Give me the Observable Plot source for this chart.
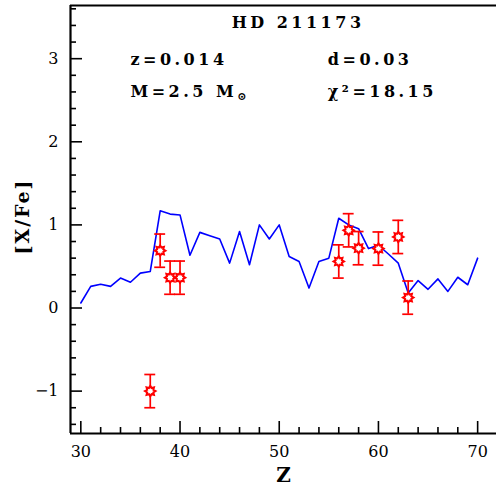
<!DOCTYPE html>
<html><head><meta charset="utf-8">
<script src="https://cdn.jsdelivr.net/npm/d3@7"></script>
<script src="https://cdn.jsdelivr.net/npm/@observablehq/plot@0.6"></script>
<style>body{margin:0;background:#fff}</style>
</head><body><div id="chart"></div>
<script>
// Model curve
const zModel = [30,31,32,33,34,35,36,37,38,39,40,41,42,43,44,45,46,47,48,49,50,51,52,53,54,55,56,57,58,59,60,61,62,63,64,65,66,67,68,69,70];
const xfeModel = [0.06,0.26,0.285,0.26,0.36,0.31,0.42,0.44,1.17,1.13,1.12,0.635,0.91,0.87,0.83,0.54,0.92,0.52,1.0,0.83,1.0,0.62,0.56,0.24,0.56,0.60,1.08,1.0,0.955,0.715,0.755,0.65,0.54,0.18,0.33,0.225,0.35,0.20,0.37,0.28,0.60];
// Observations
const zObs = [37,38,39,40,56,57,58,60,62,63];
const xfeObs = [-1.0,0.69,0.365,0.365,0.56,0.935,0.72,0.715,0.855,0.125];
const errObs = [0.2,0.2,0.2,0.2,0.2,0.2,0.2,0.2,0.2,0.2];
// Ticks
const xMajor = [30,40,50,60,70];
const xMinor = d3.range(30,72,2).filter(v => v % 10 !== 0);
const yMajor = [-1,0,1,2,3];
const yMinor = d3.range(-14,37,2).map(v => v/10).filter(v => Math.abs(v - Math.round(v)) > 1e-9);
// Annotations
const title = "HD 211173";
const labelZ = "z=0.014";
const labelD = "d=0.03";
const labelM = "M=2.5 M⊙";
const labelChi = "χ²=18.15";

const model = zModel.map((z,i) => ({z, v: xfeModel[i]}));
const obs = zObs.map((z,i) => ({z, v: xfeObs[i], e: errObs[i]}));

const burst = {
  draw(ctx, size) {
    const r = Math.sqrt(size / Math.PI);
    const n = 8, ro = r * 1.25, ri = r * 0.8;
    for (let k = 0; k < 2 * n; k++) {
      const a = Math.PI * k / n;
      const rr = k % 2 === 0 ? ro : ri;
      const x = rr * Math.sin(a), y = -rr * Math.cos(a);
      if (k === 0) ctx.moveTo(x, y); else ctx.lineTo(x, y);
    }
    ctx.closePath();
  }
};

const font = "DejaVu Serif";
const xDom = [28.96, 71.9], yDom = [-1.51, 3.64];

const plot = Plot.plot({
  width: 496, height: 492,
  marginLeft: 70, marginRight: 0, marginTop: 5, marginBottom: 59,
  style: {fontFamily: font, background: "#fff"},
  x: {domain: xDom},
  y: {domain: yDom},
  marks: [
    Plot.axisX({ticks: xMajor, tickSize: -12, text: null, strokeWidth: 1.6, label: null}),
    Plot.axisX({ticks: xMinor, tickSize: -6, text: null, strokeWidth: 1.6, label: null}),
    Plot.axisX({ticks: xMajor, tickSize: 0, tickPadding: 12, fontSize: 16, label: null}),
    Plot.axisY({ticks: yMajor, tickSize: -12, text: null, strokeWidth: 1.6, label: null}),
    Plot.axisY({ticks: yMinor, tickSize: -6, text: null, strokeWidth: 1.6, label: null}),
    Plot.axisY({ticks: yMajor, tickSize: 0, tickPadding: 12, fontSize: 16, label: null, tickFormat: d => d < 0 ? "−" + Math.abs(d) : String(d)}),
    Plot.ruleX([xDom[0]], {strokeWidth: 2.2}),
    Plot.ruleY([yDom[0], yDom[1]], {strokeWidth: 2.2}),
    Plot.line(model, {x: "z", y: "v", stroke: "#0000ff", strokeWidth: 1.6}),
    Plot.ruleX(obs, {x: "z", y1: d => d.v - d.e, y2: d => d.v + d.e, stroke: "#ff0000", strokeWidth: 1.7}),
    Plot.ruleY(obs, {y: d => d.v - d.e, x1: d => d.z - 0.55, x2: d => d.z + 0.55, stroke: "#ff0000", strokeWidth: 1.7}),
    Plot.ruleY(obs, {y: d => d.v + d.e, x1: d => d.z - 0.55, x2: d => d.z + 0.55, stroke: "#ff0000", strokeWidth: 1.7}),
    Plot.dot(obs, {x: "z", y: "v", symbol: burst, r: 4.2, stroke: "#ff0000", strokeWidth: 2, fill: "#fff"}),
    Plot.text([title], {x: 51.9, y: 3.435, text: d => d, fontSize: 16, fontWeight: "bold", textAnchor: "middle"}),
    Plot.text([labelZ], {x: 35, y: 2.99, text: d => d, fontSize: 16, fontWeight: "bold", textAnchor: "start"}),
    Plot.text([labelD], {x: 54.9, y: 2.99, text: d => d, fontSize: 16, fontWeight: "bold", textAnchor: "start"}),
    Plot.text([labelM], {x: 35, y: 2.605, text: d => d, fontSize: 16, fontWeight: "bold", textAnchor: "start"}),
    Plot.text([labelChi], {x: 54.9, y: 2.605, text: d => d, fontSize: 16, fontWeight: "bold", textAnchor: "start"}),
    Plot.text(["Z"], {frameAnchor: "bottom", text: d => d, dy: 42, lineAnchor: "middle", textAnchor: "middle", fontSize: 20, fontWeight: "bold"}),
    Plot.text(["[X/Fe]"], {frameAnchor: "left", text: d => d, rotate: -90, dx: -48, dy: -3, lineAnchor: "middle", textAnchor: "middle", fontSize: 19, fontWeight: "bold"})
  ]
});

const svg = d3.select(plot);
svg.selectAll("text").each(function() {
  const t = d3.select(this);
  const s = this.textContent;
  if ([title, labelZ, labelD, labelM, labelChi].includes(s)) t.attr("letter-spacing", "3.5px");
  if (s === "[X/Fe]") t.attr("letter-spacing", "2px");
  if (s === labelM) {
    t.text(null);
    t.append("tspan").text("M=2.5 M");
    t.append("tspan").attr("font-size", 11).attr("dy", "0.35em").text("⊙");
  }
});
document.getElementById("chart").appendChild(plot);
</script>
</body></html>
